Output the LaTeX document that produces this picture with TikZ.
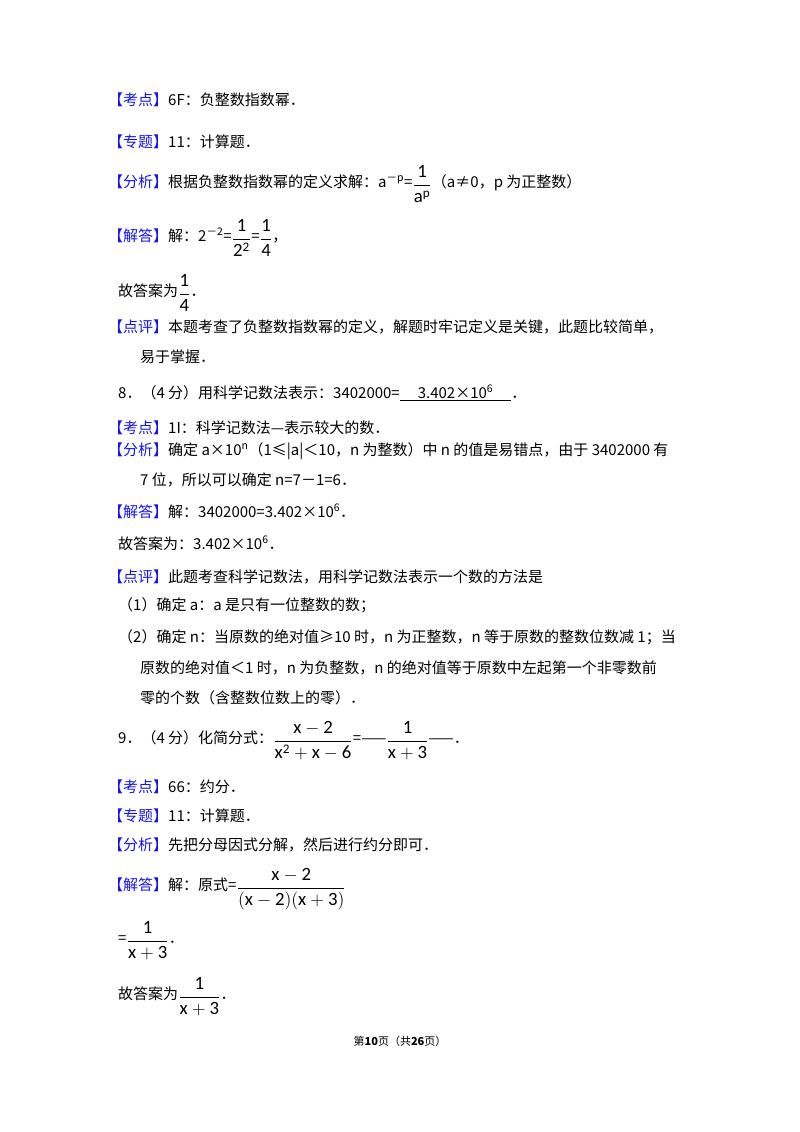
\documentclass[tikz,border=0pt]{standalone}
\usepackage{fontspec}
\usepackage{amsmath}
\usepackage{graphicx}
\setmainfont{Carlito}
\newfontfamily\cjk{Noto Sans CJK SC}
\usepackage{tikz}
\definecolor{tagblue}{RGB}{20,20,235}
\newcommand{\tg}[1]{{\color{tagblue}【#1】}}
\newcommand{\fr}[2]{\raisebox{-0.2em}{\scalebox{1.25}{\(\dfrac{\mathrm{#1}}{\mathrm{#2}}\)}}}
\tikzset{ln/.style={anchor=base west, inner sep=0pt, font=\cjk\fontsize{15}{20}\selectfont}}

\begin{document}
\begin{tikzpicture}[x=1pt, y=-1pt]
    \useasboundingbox (0,0) rectangle (800,1132);
    % --- 第7题の続き ---
    \node[ln] (k7) at (108,105) {\tg{考点}6F：负整数指数幂．};
    \node[ln] (z7) at (108,147) {\tg{专题}11：计算题．};
    \node[ln] (f7) at (108,187) {\tg{分析}根据负整数指数幂的定义求解：a\textsuperscript{－p}=\fr{1}{a^p}（a≠0，p 为正整数）};
    \node[ln] (j7) at (108,241) {\tg{解答}解：2\textsuperscript{－2}=\fr{1}{2^2}=\fr{1}{4}，};
    \node[ln] (a7) at (118,296) {故答案为\fr{1}{4}．};
    \node[ln] (p7) at (108,332) {\tg{点评}本题考查了负整数指数幂的定义，解题时牢记定义是关键，此题比较简单，};
    \node[ln] (p7b) at (140,362) {易于掌握．};
    % --- 第8题 ---
    \node[ln] (q8) at (118,398) {8．（4 分）用科学记数法表示：3402000=\underline{\hspace{1.2em}3.402×10\textsuperscript{6}\hspace{1.2em}}．};
    \node[ln] (k8) at (108,433) {\tg{考点}1I：科学记数法—表示较大的数．};
    \node[ln] (f8) at (108,455) {\tg{分析}确定 a×10\textsuperscript{n}（1≤|a|＜10，n 为整数）中 n 的值是易错点，由于 3402000 有};
    \node[ln] (f8b) at (140,485) {7 位，所以可以确定 n=7－1=6．};
    \node[ln] (j8) at (108,517) {\tg{解答}解：3402000=3.402×10\textsuperscript{6}．};
    \node[ln] (a8) at (118,549) {故答案为：3.402×10\textsuperscript{6}．};
    \node[ln] (p8) at (108,582) {\tg{点评}此题考查科学记数法，用科学记数法表示一个数的方法是};
    \node[ln] (p8a) at (118,610) {（1）确定 a：a 是只有一位整数的数；};
    \node[ln] (p8b) at (118,642) {（2）确定 n：当原数的绝对值≥10 时，n 为正整数，n 等于原数的整数位数减 1；当};
    \node[ln] (p8c) at (140,673) {原数的绝对值＜1 时，n 为负整数，n 的绝对值等于原数中左起第一个非零数前};
    \node[ln] (p8d) at (140,703) {零的个数（含整数位数上的零）．};
    % --- 第9题 ---
    \node[ln] (q9) at (118,743) {9．（4 分）化简分式：\fr{x-2}{x^2+x-6}=——\fr{1}{x+3}——．};
    \node[ln] (k9) at (108,792) {\tg{考点}66：约分．};
    \node[ln] (z9) at (108,821) {\tg{专题}11：计算题．};
    \node[ln] (f9) at (108,850) {\tg{分析}先把分母因式分解，然后进行约分即可．};
    \node[ln] (j9) at (108,890) {\tg{解答}解：原式=\fr{x-2}{(x-2)(x+3)}};
    \node[ln] (j9b) at (118,943) {=\fr{1}{x+3}．};
    \node[ln] (a9) at (118,999) {故答案为\fr{1}{x+3}．};
    % --- ページ番号 ---
    \node[anchor=base, inner sep=0pt, font=\cjk\fontsize{11}{13}\selectfont] (pg) at (400,1045) {第\textbf{10}页（共\textbf{26}页）};
\end{tikzpicture}
\end{document}
